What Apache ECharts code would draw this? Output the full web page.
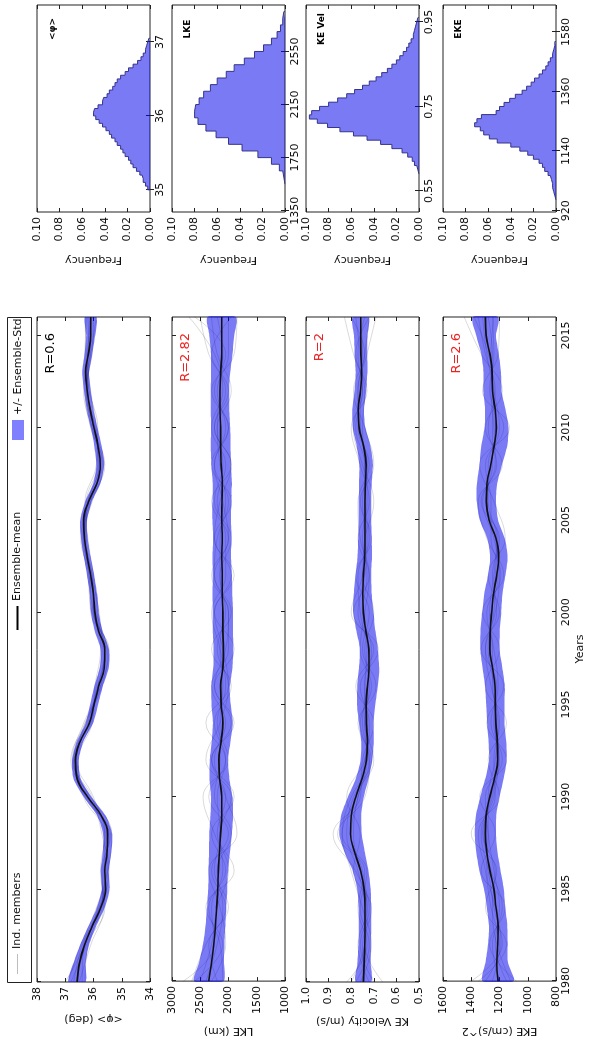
<!DOCTYPE html>
<html><head><meta charset="utf-8">
<script src="https://cdn.jsdelivr.net/npm/echarts@6/dist/echarts.min.js"></script>
<style>
html,body{margin:0;padding:0;background:#fff;overflow:hidden;}
#wrap{position:relative;width:590px;height:1044px;overflow:hidden;background:#fff;}
#chart{position:absolute;left:0;top:0;width:1044px;height:590px;transform-origin:0 0;transform:translate(0px,1044px) rotate(-90deg);}
</style></head><body>
<div id="wrap"><div id="chart"></div></div>
<script>
// ---------- DATA ----------
const years = [1980,1981,1982,1983,1984,1985,1986,1987,1988,1989,1990,1991,1992,1993,1994,1995,1996,1997,1998,1999,2000,2001,2002,2003,2004,2005,2006,2007,2008,2009,2010,2011,2012,2013,2014,2015,2016];
const memberYears = [1980,1982,1984,1986,1988,1990,1992,1994,1996,1998,2000,2002,2004,2006,2008,2010,2012,2014,2016];

const phiMean = [36.58,36.5,36.32,36.05,35.75,35.57,35.6,35.52,35.5,35.72,36.2,36.58,36.64,36.48,36.15,35.98,35.82,35.62,35.6,35.82,35.95,36.0,36.1,36.22,36.32,36.35,36.18,35.88,35.76,35.84,35.98,36.12,36.22,36.28,36.18,36.1,36.1];
const phiStd = [0.3,0.22,0.16,0.14,0.14,0.14,0.14,0.15,0.16,0.15,0.14,0.13,0.12,0.12,0.13,0.14,0.15,0.16,0.15,0.14,0.14,0.13,0.13,0.12,0.12,0.12,0.12,0.13,0.14,0.13,0.12,0.12,0.12,0.12,0.14,0.16,0.2];
const phiMembers = [
 [36.9,36.45,35.9,35.5,35.35,36.1,36.8,36.3,35.7,35.5,36.05,36.2,36.4,36.05,35.65,36.1,36.3,36.05,36.0],
 [36.3,36.2,35.6,35.75,35.6,36.35,36.55,36.05,35.95,35.75,35.85,36.0,36.2,36.3,35.9,35.85,36.15,36.3,36.25],
 [36.7,36.4,35.8,35.45,35.7,36.05,36.75,36.35,35.75,35.45,36.1,36.15,36.45,36.1,35.6,36.05,36.35,36.1,35.9],
 [36.5,36.1,35.65,35.7,35.4,36.3,36.6,36.1,35.9,35.7,35.8,36.05,36.25,36.25,35.85,35.9,36.1,36.25,36.3],
 [37.0,36.3,35.85,35.55,35.55,36.15,36.7,36.25,35.8,35.6,36.0,36.15,36.3,36.15,35.7,36.0,36.25,36.1,36.15],
 [36.4,36.35,35.7,35.65,35.45,36.25,36.7,36.15,35.85,35.55,35.9,36.1,36.35,36.2,35.8,35.95,36.2,36.2,36.05],
 [36.8,36.25,35.75,35.6,35.6,36.0,36.6,36.3,35.75,35.65,36.0,36.05,36.3,36.1,35.75,36.05,36.25,36.15,36.2],
 [36.6,36.3,35.8,35.5,35.5,36.2,36.65,36.2,35.85,35.6,35.95,36.1,36.35,36.2,35.8,35.95,36.2,36.2,36.1]
];

const lkeMean = [2350,2300,2260,2230,2210,2190,2180,2160,2140,2120,2120,2160,2170,2130,2100,2130,2140,2100,2090,2100,2100,2110,2110,2120,2110,2120,2115,2110,2130,2140,2140,2150,2150,2140,2120,2120,2120];
const lkeStd = [260,220,190,175,170,170,175,185,200,200,190,175,160,165,175,170,165,170,175,180,180,175,170,165,165,165,170,170,175,175,170,165,165,170,190,220,250];
const lkeMembers = [
 [2650,2400,2050,2300,2000,2350,2050,2250,1950,2300,1950,2250,2000,2300,1950,2250,2050,2350,2500],
 [2100,2150,2350,2050,2300,1900,2300,1950,2250,1900,2250,1950,2250,1950,2300,2000,2300,1900,1850],
 [2500,2300,2200,2000,2250,2450,2000,2200,2050,2150,2300,2050,2050,2200,2050,2300,2100,2250,2700],
 [2300,2050,2150,2350,1850,2050,2250,2050,2300,2000,2000,2250,2200,2000,2250,2050,2200,2000,2000],
 [2800,2250,2300,2100,2150,1950,2400,2150,2000,2200,2050,2150,1950,2250,2100,2200,1950,2200,2300],
 [2200,2350,2000,2250,2150,2200,2050,2400,2000,2100,2250,1900,2250,2150,1950,2250,2000,2300,1950],
 [2600,2100,2400,1900,2200,2050,2300,1900,2250,2050,2000,2300,2000,2100,2250,2000,2250,2050,2600],
 [2400,2200,2100,2200,1950,2250,2150,2150,2100,2150,2100,2150,2150,2050,2150,2200,2150,2100,2200]
];

const kevMean = [0.746,0.743,0.740,0.739,0.739,0.743,0.758,0.784,0.803,0.800,0.780,0.752,0.733,0.728,0.733,0.734,0.728,0.721,0.722,0.735,0.746,0.749,0.746,0.740,0.739,0.739,0.739,0.737,0.734,0.745,0.765,0.769,0.759,0.754,0.757,0.758,0.758];
const kevStd = [0.035,0.03,0.028,0.028,0.028,0.03,0.035,0.045,0.05,0.045,0.035,0.028,0.026,0.028,0.032,0.04,0.045,0.045,0.04,0.042,0.045,0.04,0.035,0.032,0.03,0.028,0.028,0.028,0.03,0.03,0.028,0.026,0.026,0.026,0.028,0.03,0.035];
const kevMembers = [
 [0.70,0.76,0.72,0.78,0.88,0.76,0.75,0.70,0.78,0.70,0.79,0.72,0.77,0.72,0.76,0.80,0.73,0.78,0.72],
 [0.78,0.72,0.76,0.73,0.84,0.80,0.71,0.77,0.69,0.75,0.72,0.78,0.71,0.76,0.70,0.74,0.79,0.74,0.80],
 [0.74,0.75,0.71,0.79,0.76,0.82,0.74,0.72,0.76,0.68,0.80,0.75,0.74,0.70,0.75,0.79,0.75,0.77,0.74],
 [0.82,0.73,0.77,0.74,0.86,0.74,0.72,0.76,0.71,0.76,0.74,0.72,0.76,0.77,0.72,0.77,0.77,0.73,0.69],
 [0.66,0.74,0.74,0.77,0.82,0.79,0.70,0.74,0.74,0.73,0.76,0.77,0.72,0.74,0.74,0.75,0.74,0.79,0.83],
 [0.72,0.77,0.73,0.75,0.80,0.77,0.73,0.74,0.72,0.74,0.70,0.75,0.74,0.75,0.73,0.76,0.76,0.75,0.76],
 [0.76,0.71,0.75,0.80,0.84,0.78,0.74,0.73,0.74,0.72,0.77,0.74,0.73,0.74,0.74,0.78,0.75,0.76,0.78],
 [0.80,0.74,0.73,0.76,0.79,0.77,0.72,0.75,0.73,0.71,0.75,0.73,0.75,0.73,0.73,0.76,0.77,0.74,0.72]
];

const ekeMean = [1210,1220,1212,1210,1225,1240,1268,1290,1300,1295,1268,1235,1212,1215,1226,1229,1232,1250,1268,1266,1255,1243,1220,1205,1225,1275,1293,1288,1262,1238,1222,1230,1250,1252,1268,1295,1300];
const ekeStd = [110,80,70,65,65,70,75,75,75,72,68,65,62,62,62,65,70,70,68,68,68,65,62,62,62,65,68,72,80,92,85,72,65,62,62,70,90];
const ekeMembers = [
 [1350,1150,1300,1220,1400,1200,1280,1150,1300,1200,1320,1170,1290,1350,1180,1300,1180,1330,1450],
 [1080,1270,1160,1330,1230,1340,1150,1290,1170,1330,1200,1280,1160,1240,1340,1130,1320,1210,1200],
 [1250,1200,1260,1300,1350,1230,1240,1200,1260,1300,1220,1250,1200,1330,1220,1280,1230,1300,1350],
 [1150,1230,1200,1240,1280,1300,1180,1260,1210,1240,1290,1190,1260,1260,1300,1170,1270,1240,1250],
 [1400,1180,1240,1280,1330,1250,1220,1230,1240,1280,1240,1230,1210,1300,1250,1250,1240,1280,1380],
 [1200,1250,1180,1260,1310,1260,1200,1240,1220,1300,1230,1200,1240,1320,1230,1240,1260,1250,1280],
 [1300,1190,1230,1290,1280,1280,1230,1210,1250,1250,1270,1240,1220,1280,1280,1200,1240,1290,1320],
 [1120,1220,1250,1230,1320,1240,1210,1230,1230,1270,1260,1210,1230,1290,1260,1230,1250,1260,1240]
];

const tsLabels = ['<φ> (deg)','LKE (km)','KE Velocity (m/s)','EKE (cm/s)^2'];
const rLabels = ['R=0.6','R=2.82','R=2','R=2.6'];
const yearTicks = [1980,1985,1990,1995,2000,2005,2010,2015];

// histograms (bin start, bin width, frequency per bin)
const histPhiStart = 35.0, histPhiWidth = 0.05;
const histPhiFreq = [0.002,0.004,0.006,0.007,0.009,0.012,0.015,0.017,0.019,0.022,0.024,0.026,0.029,0.031,0.034,0.036,0.039,0.042,0.045,0.048,0.050,0.049,0.046,0.042,0.041,0.038,0.036,0.033,0.031,0.029,0.026,0.022,0.019,0.015,0.011,0.008,0.006,0.004,0.003,0.002,0.001];
const histLkeStart = 1550, histLkeWidth = 50;
const histLkeFreq = [0.001,0.002,0.005,0.012,0.024,0.038,0.050,0.061,0.070,0.077,0.080,0.079,0.076,0.072,0.066,0.060,0.052,0.045,0.036,0.027,0.019,0.012,0.007,0.004,0.002,0.001];
const histKevStart = 0.59, histKevWidth = 0.01;
const histKevFreq = [0.001,0.002,0.004,0.006,0.010,0.015,0.024,0.034,0.046,0.058,0.070,0.081,0.090,0.097,0.095,0.088,0.080,0.072,0.064,0.057,0.050,0.044,0.038,0.033,0.028,0.024,0.020,0.017,0.014,0.011,0.009,0.007,0.005,0.004,0.003,0.002,0.001];
const histEkeStart = 960, histEkeWidth = 15;
const histEkeFreq = [0.001,0.002,0.003,0.003,0.004,0.005,0.007,0.010,0.012,0.015,0.020,0.025,0.032,0.040,0.052,0.059,0.064,0.067,0.072,0.070,0.066,0.053,0.050,0.046,0.041,0.036,0.030,0.026,0.022,0.019,0.015,0.012,0.009,0.007,0.005,0.003,0.002,0.001,0.001];

const histPhiTicks = [35,36,37];
const histLkeTicks = [1350,1750,2150,2550];
const histKevTicks = [0.55,0.75,0.95];
const histEkeTicks = [920,1140,1360,1580];
const histTitles = ['<φ>','LKE','KE Vel','EKE'];
const freqTicks = [0,0.02,0.04,0.06,0.08,0.10];

// ---------- LAYOUT / STYLE ----------
const FONT = 'DejaVu Sans';
const TXT = '#111';
const rowTop = [37,172,306,443], rowH = 113;
const tsLeft = 62, tsW = 665;
const hLeft = 832, hW = 207;
const bandColor = 'rgba(0,0,235,0.52)';

const panels = [
  {mean:phiMean, std:phiStd, members:phiMembers, min:34, max:38, interval:1, fmt:v=>String(v), rc:'#000'},
  {mean:lkeMean, std:lkeStd, members:lkeMembers, min:1000, max:3000, interval:500, fmt:v=>String(v), rc:'#ee2222'},
  {mean:kevMean, std:kevStd, members:kevMembers, min:0.5, max:1.0, interval:0.1, fmt:v=>v.toFixed(1), rc:'#ee2222'},
  {mean:ekeMean, std:ekeStd, members:ekeMembers, min:800, max:1600, interval:200, fmt:v=>String(Math.round(v)), rc:'#ee2222'}
];
const hists = [
  {start:histPhiStart, width:histPhiWidth, freq:histPhiFreq, min:34.7, max:37.5, ticks:histPhiTicks, fmt:v=>String(v)},
  {start:histLkeStart, width:histLkeWidth, freq:histLkeFreq, min:1340, max:2900, ticks:histLkeTicks, fmt:v=>String(v)},
  {start:histKevStart, width:histKevWidth, freq:histKevFreq, min:0.5, max:0.99, ticks:histKevTicks, fmt:v=>v.toFixed(2)},
  {start:histEkeStart, width:histEkeWidth, freq:histEkeFreq, min:915, max:1680, ticks:histEkeTicks, fmt:v=>String(v)}
];

const grid=[], xAxis=[], yAxis=[], series=[], graphic=[];
const tickStyle = {color:'#222', width:1};
const labelStyle = (extra) => Object.assign({fontFamily:FONT, fontSize:11, color:TXT}, extra||{});

function bandRender(params, api){
  if (params.dataIndexInside !== 0) return null;
  const n = params.dataInsideLength;
  const up = [], lo = [];
  for (let k = 0; k < n; k++) {
    const x = api.value(0, k);
    lo.push(api.coord([x, api.value(1, k)]));
    up.push(api.coord([x, api.value(2, k)]));
  }
  return {type:'polygon', shape:{points: up.concat(lo.reverse()), smooth:0.25},
          style:{fill:bandColor, stroke:null}};
}

panels.forEach((p,i)=>{
  grid.push({left:tsLeft, top:rowTop[i], width:tsW, height:rowH, show:true, borderColor:'#222', borderWidth:1, backgroundColor:'transparent'});
  const last = i===3;
  xAxis.push({type:'value', gridIndex:i, min:1980, max:2016, position:'bottom',
    axisLine:{show:false}, splitLine:{show:false},
    axisTick:{show:true, inside:true, length:4, lineStyle:tickStyle, customValues:yearTicks},
    axisLabel:labelStyle({show:last, margin:5, customValues:yearTicks, formatter:v=>String(v)}),
    name:last?'Years':'', nameLocation:'middle', nameGap:19, nameTextStyle:labelStyle()});
  xAxis.push({type:'value', gridIndex:i, min:1980, max:2016, position:'top',
    axisLine:{show:false}, splitLine:{show:false},
    axisTick:{show:true, inside:true, length:4, lineStyle:tickStyle, customValues:yearTicks},
    axisLabel:{show:false}});
  yAxis.push({type:'value', gridIndex:i, min:p.min, max:p.max, interval:p.interval, position:'left',
    axisLine:{show:false}, splitLine:{show:false},
    axisTick:{show:true, inside:true, length:4, lineStyle:tickStyle},
    axisLabel:labelStyle({margin:5, formatter:p.fmt}),
    name:tsLabels[i], nameLocation:'middle', nameGap:31, nameRotate:90, nameTextStyle:labelStyle()});
  yAxis.push({type:'value', gridIndex:i, min:p.min, max:p.max, interval:p.interval, position:'right',
    axisLine:{show:false}, splitLine:{show:false},
    axisTick:{show:true, inside:true, length:4, lineStyle:tickStyle},
    axisLabel:{show:false}});
  const ax = 2*i;
  p.members.forEach(m=>{
    series.push({type:'line', name:'Ind. members', xAxisIndex:ax, yAxisIndex:ax,
      data:memberYears.map((y,k)=>[y,m[k]]), smooth:0.4, symbol:'none', silent:true,
      lineStyle:{color:'rgba(0,0,0,0.15)', width:1}, itemStyle:{color:'#bdbdbd'}, z:1});
  });
  series.push({type:'custom', name:'+/- Ensemble-Std', xAxisIndex:ax, yAxisIndex:ax, silent:true, clip:true, z:3,
    data:years.map((y,k)=>[y, p.mean[k]-p.std[k], p.mean[k]+p.std[k]]),
    encode:{x:0, y:[1,2]}, itemStyle:{color:'#8080ff'}, renderItem:bandRender});
  series.push({type:'line', name:'Ensemble-mean', xAxisIndex:ax, yAxisIndex:ax,
    data:years.map((y,k)=>[y,p.mean[k]]), smooth:0.4, symbol:'none', silent:true,
    lineStyle:{color:'#111', width:1.6}, itemStyle:{color:'#000'}, z:4});
  graphic.push({type:'text', x:711, y:rowTop[i]+14, z:10, silent:true,
    style:{text:rLabels[i], fill:p.rc, font:'13px "DejaVu Sans"', align:'right', verticalAlign:'middle'}});
});

hists.forEach((h,j)=>{
  const g = 4+j;
  grid.push({left:hLeft, top:rowTop[j], width:hW, height:rowH, show:true, borderColor:'#222', borderWidth:1, backgroundColor:'transparent'});
  xAxis.push({type:'value', gridIndex:g, min:h.min, max:h.max, position:'bottom',
    axisLine:{show:false}, splitLine:{show:false},
    axisTick:{show:true, inside:true, length:4, lineStyle:tickStyle, customValues:h.ticks},
    axisLabel:labelStyle({margin:5, customValues:h.ticks, formatter:h.fmt})});
  xAxis.push({type:'value', gridIndex:g, min:h.min, max:h.max, position:'top',
    axisLine:{show:false}, splitLine:{show:false},
    axisTick:{show:true, inside:true, length:4, lineStyle:tickStyle, customValues:h.ticks},
    axisLabel:{show:false}});
  yAxis.push({type:'value', gridIndex:g, min:0, max:0.1, position:'left',
    axisLine:{show:false}, splitLine:{show:false},
    axisTick:{show:true, inside:true, length:4, lineStyle:tickStyle, customValues:freqTicks},
    axisLabel:labelStyle({margin:5, customValues:freqTicks, formatter:v=>v.toFixed(2)}),
    name:'Frequency', nameLocation:'middle', nameGap:42, nameRotate:90, nameTextStyle:labelStyle()});
  yAxis.push({type:'value', gridIndex:g, min:0, max:0.1, position:'right',
    axisLine:{show:false}, splitLine:{show:false},
    axisTick:{show:true, inside:true, length:4, lineStyle:tickStyle, customValues:freqTicks},
    axisLabel:{show:false}});
  const pts = [[h.start,0]];
  h.freq.forEach((f,k)=>pts.push([h.start+k*h.width, f]));
  pts.push([h.start+h.freq.length*h.width, 0]);
  series.push({type:'line', name:'hist-'+j, xAxisIndex:2*g, yAxisIndex:2*g, data:pts, step:'end',
    symbol:'none', silent:true, lineStyle:{color:'#34348a', width:1}, areaStyle:{color:bandColor, opacity:1}, z:2});
  graphic.push({type:'text', x:1015, y:rowTop[j]+16, z:10, silent:true,
    style:{text:histTitles[j], fill:'#000', font:'bold 9px "DejaVu Sans"', align:'center', verticalAlign:'middle'}});
});

// legend frame
graphic.push({type:'rect', z:10, silent:true, shape:{x:61.5, y:7.5, width:665, height:24},
  style:{fill:'none', stroke:'#222', lineWidth:1}});

const legendText = {fontFamily:FONT, fontSize:11, color:TXT};
const legend = [
  {left:70, top:12, padding:0, selectedMode:false, itemWidth:20, itemHeight:1, textStyle:legendText,
   data:[{name:'Ind. members', icon:'rect', itemStyle:{color:'#bdbdbd'}}]},
  {left:414, top:12, padding:0, selectedMode:false, itemWidth:24, itemHeight:2, textStyle:legendText,
   data:[{name:'Ensemble-mean', icon:'rect', itemStyle:{color:'#000'}}]},
  {left:604, top:12, padding:0, selectedMode:false, itemWidth:20, itemHeight:12, textStyle:legendText,
   data:[{name:'+/- Ensemble-Std', icon:'rect', itemStyle:{color:'#8080ff'}}]}
];

const chart = echarts.init(document.getElementById('chart'), null, {renderer:'canvas'});
chart.setOption({
  animation:false,
  backgroundColor:'#fff',
  textStyle:{fontFamily:FONT},
  grid, xAxis, yAxis, series, graphic, legend
});
</script>
</body></html>
